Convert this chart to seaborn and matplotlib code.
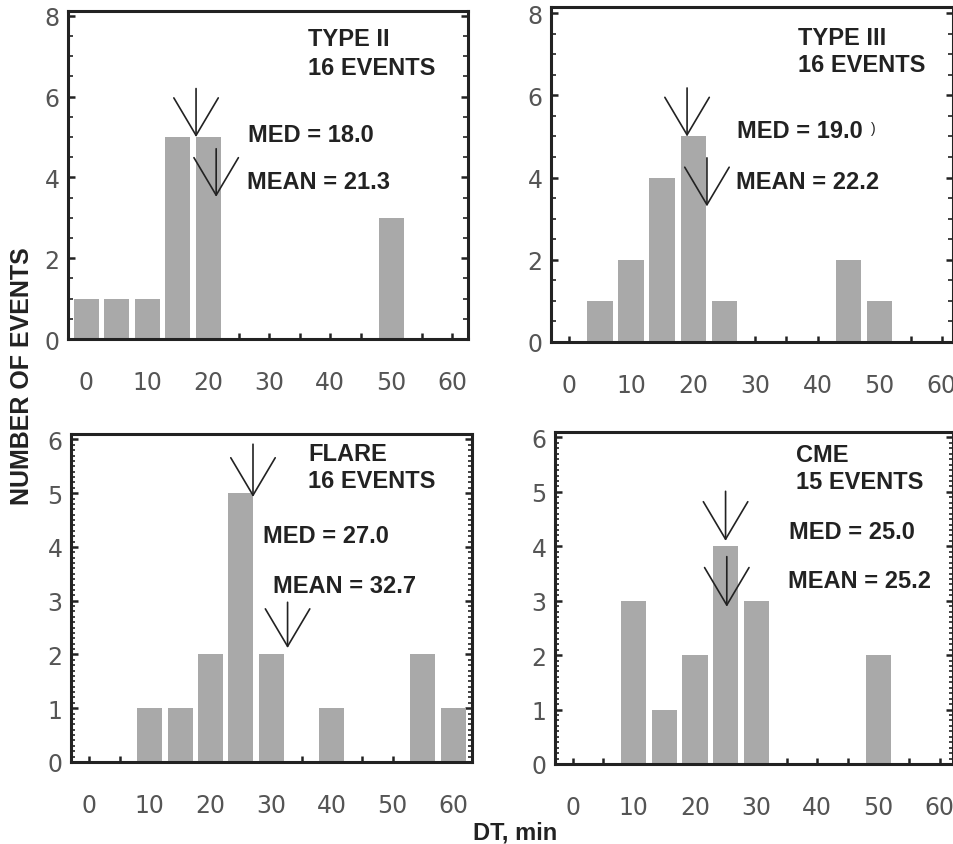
import numpy as np
import pandas as pd
import matplotlib
matplotlib.use("Agg")
import matplotlib.pyplot as plt
import seaborn as sns
from matplotlib.ticker import MultipleLocator, FixedLocator

# ---------------- data ----------------
bins_type2 = [0, 5, 10, 15, 20, 50]
counts_type2 = [1, 1, 1, 5, 5, 3]
bins_type3 = [5, 10, 15, 20, 25, 45, 50]
counts_type3 = [1, 2, 4, 5, 1, 2, 1]
bins_flare = [10, 15, 20, 25, 30, 40, 55, 60]
counts_flare = [1, 1, 2, 5, 2, 1, 2, 1]
bins_cme = [10, 15, 20, 25, 30, 50]
counts_cme = [3, 1, 2, 4, 3, 2]

panel_names = ["TYPE II", "TYPE III", "FLARE", "CME"]
n_events = [16, 16, 16, 15]
medians = [18.0, 19.0, 27.0, 25.0]
means = [21.3, 22.2, 32.7, 25.2]

# arrow vertical extents (data units): tip / top
med_tip = [5.0, 5.0, 4.93, 4.1]
med_top = [6.2, 6.18, 5.91, 5.01]
mean_tip = [3.52, 3.3, 2.12, 2.89]
mean_top = [4.71, 4.48, 2.97, 3.81]

x_ticks = [0, 10, 20, 30, 40, 50, 60]
x_tick_labels = ["0", "10", "20", "30", "40", "50", "60"]
y_ticks_top = [0, 2, 4, 6, 8]
y_ticks_bottom = [0, 1, 2, 3, 4, 5, 6]

ylabel_text = "NUMBER OF EVENTS"
xlabel_text = "DT, min"

# ---------------- style ----------------
sns.set_theme(style="ticks")
plt.rcParams["font.family"] = ["Liberation Sans", "DejaVu Sans"]

W, H = 954, 845
fig = plt.figure(figsize=(W / 100, H / 100), dpi=100)
fig.patch.set_facecolor("white")

def rect(l, r, t, b):
    return [l / W, 1 - b / H, (r - l) / W, (b - t) / H]

axes_rects = [rect(68, 468, 12, 340), rect(551, 953, 8, 343),
              rect(71, 472, 435, 763), rect(555, 953, 433, 765)]
xlims = [(-3, 62.6), (-2.9, 61.8), (-3, 63.1), (-2.9, 62.2)]
ylims = [(0, 8.12), (0, 8.15), (0, 6.1), (0, 6.1)]

bins_all = [bins_type2, bins_type3, bins_flare, bins_cme]
counts_all = [counts_type2, counts_type3, counts_flare, counts_cme]

# text positions (axes fraction, baseline)
name_pos = [(0.60, 0.896), (0.614, 0.890), (0.591, 0.921), (0.606, 0.913)]
ev_y = [0.808, 0.809, 0.838, 0.831]
med_pos = [(0.45, 0.604), (0.463, 0.612), (0.479, 0.671), (0.588, 0.681)]
mean_pos = [(0.4475, 0.460), (0.460, 0.460), (0.504, 0.518), (0.585, 0.533)]

dark = "#222222"
bar_color = "#a9a9a9"
tick_color = "#555555"
bold_kw = dict(fontsize=17, fontweight="bold", color=dark,
               family=["Liberation Sans", "DejaVu Sans"])

for i in range(4):
    ax = fig.add_axes(axes_rects[i])
    df = pd.DataFrame({"dt": bins_all[i], "n": counts_all[i]})
    sns.barplot(data=df, x="dt", y="n", native_scale=True, width=0.82,
                color=bar_color, saturation=1, linewidth=0, ax=ax, zorder=2)
    ax.set_xlim(*xlims[i])
    ax.set_ylim(*ylims[i])
    ax.set_xlabel("")
    ax.set_ylabel("")
    ax.set_facecolor("white")

    ax.xaxis.set_major_locator(FixedLocator(x_ticks))
    ax.set_xticklabels(x_tick_labels)
    ax.xaxis.set_minor_locator(FixedLocator([5, 15, 25, 35, 45, 55]))
    if i < 2:
        ax.yaxis.set_major_locator(FixedLocator(y_ticks_top))
        ax.set_yticklabels([str(v) for v in y_ticks_top])
        ax.yaxis.set_minor_locator(MultipleLocator(0.5))
        minor_len = 3.5
    else:
        ax.yaxis.set_major_locator(FixedLocator(y_ticks_bottom))
        ax.set_yticklabels([str(v) for v in y_ticks_bottom])
        ax.yaxis.set_minor_locator(MultipleLocator(0.1))
        minor_len = 3.0

    ax.tick_params(axis="x", which="both", direction="in", length=4.5, width=1.8,
                   color=dark, bottom=True, top=False, pad=22,
                   labelsize=17, labelcolor=tick_color)
    ax.tick_params(axis="y", which="major", direction="in", length=5, width=1.8,
                   color=dark, left=True, right=True, pad=6,
                   labelsize=17, labelcolor=tick_color)
    ax.tick_params(axis="y", which="minor", direction="in", length=minor_len,
                   width=1.2, color=dark, left=True, right=True)
    for lab in ax.get_xticklabels() + ax.get_yticklabels():
        lab.set_family("DejaVu Sans")

    for s in ax.spines.values():
        s.set_visible(True)
        s.set_linewidth(2.2)
        s.set_color(dark)
        s.set_zorder(5)

    # annotations
    ax.text(name_pos[i][0], name_pos[i][1], panel_names[i], transform=ax.transAxes,
            va="baseline", ha="left", **bold_kw)
    ax.text(name_pos[i][0], ev_y[i], f"{n_events[i]} EVENTS", transform=ax.transAxes,
            va="baseline", ha="left", **bold_kw)
    ax.text(med_pos[i][0], med_pos[i][1], f"MED = {medians[i]:.1f}",
            transform=ax.transAxes, va="baseline", ha="left", **bold_kw)
    ax.text(mean_pos[i][0], mean_pos[i][1], f"MEAN = {means[i]:.1f}",
            transform=ax.transAxes, va="baseline", ha="left", **bold_kw)
    if i == 1:
        ax.text(0.795, 0.628, ")", transform=ax.transAxes, va="baseline",
                ha="left", fontsize=10, color=dark)

    arrow_kw = dict(arrowstyle="->,head_length=27,head_width=16", mutation_scale=1,
                    lw=1.2, color=dark, shrinkA=0, shrinkB=0)
    ax.annotate("", xy=(medians[i], med_tip[i]), xytext=(medians[i], med_top[i]),
                arrowprops=arrow_kw, zorder=6)
    ax.annotate("", xy=(means[i], mean_tip[i]), xytext=(means[i], mean_top[i]),
                arrowprops=arrow_kw, zorder=6)

fig.text(22 / W, 1 - 376 / H, ylabel_text, rotation=90, ha="center", va="center",
         fontsize=18, fontweight="bold", color=dark)
fig.text(515 / W, 1 - 833 / H, xlabel_text, ha="center", va="center",
         fontsize=17, fontweight="bold", color=dark)

fig.savefig("out.png", dpi=100, facecolor="white")
